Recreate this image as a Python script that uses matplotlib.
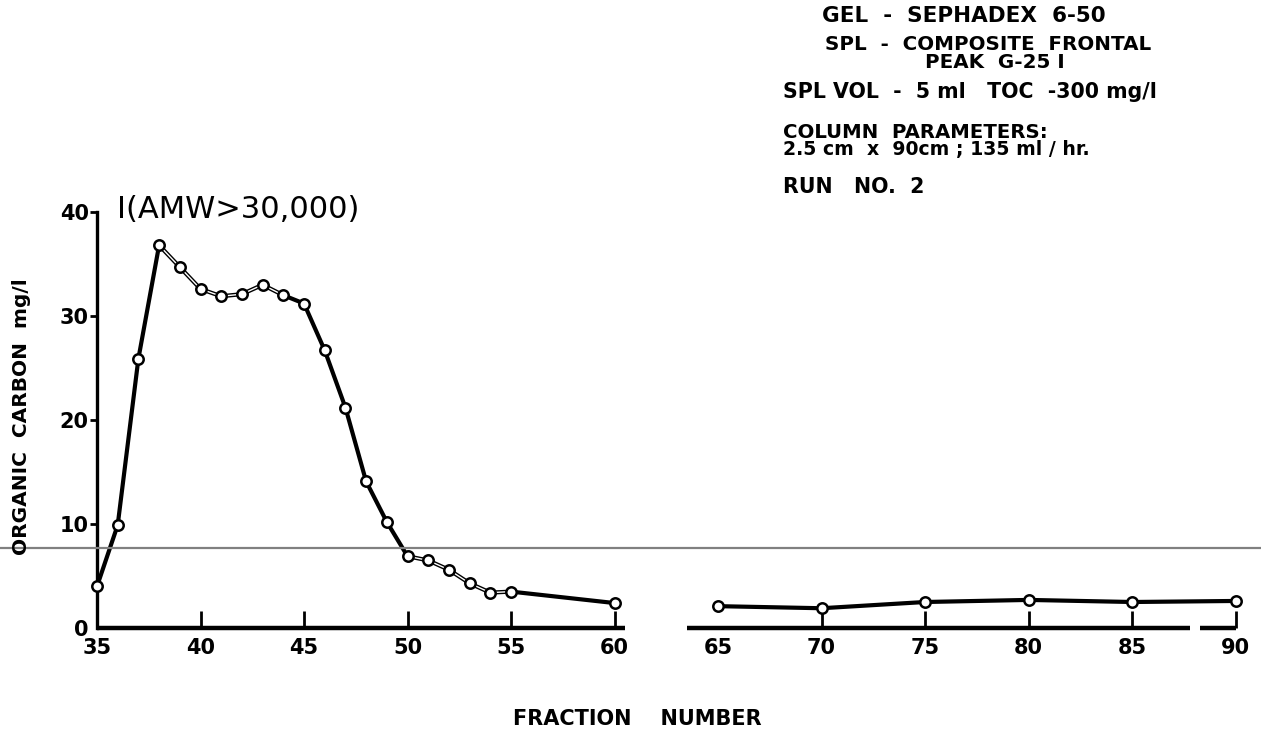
import matplotlib
matplotlib.use("Agg")
import matplotlib.pyplot as plt
from matplotlib.lines import Line2D

# ---- data ----
left_fraction = [35, 36, 37, 38, 39, 40, 41, 42, 43, 44, 45, 46, 47, 48, 49,
                 50, 51, 52, 53, 54, 55, 60]
left_carbon = [4.0, 9.9, 25.9, 36.8, 34.7, 32.6, 31.9, 32.1, 33.0, 32.0, 31.2,
               26.7, 21.2, 14.1, 10.2, 6.9, 6.5, 5.6, 4.3, 3.4, 3.5, 2.4]
right_fraction = [65, 70, 75, 80, 85, 90]
right_carbon = [2.1, 1.9, 2.5, 2.7, 2.5, 2.6]

xticks = [35, 40, 45, 50, 55, 60, 65, 70, 75, 80, 85, 90]
yticks = [0, 10, 20, 30, 40]

peak_label = "I(AMW>30,000)"
notes = [
    ("GEL  -  SEPHADEX  6-50", 822, 16, 15.5),
    ("SPL  -  COMPOSITE  FRONTAL", 825, 45, 14.3),
    ("PEAK  G-25 I", 925, 63, 14.3),
    ("SPL VOL  -  5 ml   TOC  -300 mg/l", 783, 92, 14.8),
    ("COLUMN  PARAMETERS:", 783, 133, 14.2),
    ("2.5 cm  x  90cm ; 135 ml / hr.", 783, 150, 13.6),
    ("RUN   NO.  2", 783, 187, 14.8),
]

# axis line pieces (broken baseline as drawn on the original sheet)
axis_pieces = [(35, 60.5), (63.5, 87.8), (88.3, 90.0)]
hollow_spans = [(38, 44), (50, 55)]

W, H = 1261, 735
fig = plt.figure(figsize=(W / 100, H / 100), dpi=100)
fig.patch.set_facecolor("white")

x0, x1, yb, yt = 97, 1242, 628, 212
ax = fig.add_axes([x0 / W, 1 - yb / H, (x1 - x0) / W, (yb - yt) / H])
ax.set_xlim(35, 35 + (x1 - x0) / 20.7)
ax.set_ylim(0, 40)

for s in ["top", "right", "bottom"]:
    ax.spines[s].set_visible(False)
ax.spines["left"].set_linewidth(2.4)
ax.spines["left"].set_color("black")

# broken baseline
for a, b in axis_pieces:
    ax.plot([a, b], [0, 0], color="black", lw=3.2, solid_capstyle="butt",
            clip_on=False, zorder=3)

# left curve
ax.plot(left_fraction, left_carbon, color="black", lw=3.0, zorder=4,
        clip_on=False, solid_joinstyle="round")
for a, b in hollow_spans:
    idx = [i for i, f in enumerate(left_fraction) if a <= f <= b]
    ax.plot([left_fraction[i] for i in idx], [left_carbon[i] for i in idx],
            color="white", lw=1.0, zorder=5)
ax.plot(left_fraction, left_carbon, ls="none", marker="o", ms=7.5,
        mfc="white", mec="black", mew=1.8, zorder=6, clip_on=False)

# right curve
ax.plot(right_fraction, right_carbon, color="black", lw=3.0, zorder=4,
        clip_on=False)
ax.plot(right_fraction, right_carbon, ls="none", marker="o", ms=7.5,
        mfc="white", mec="black", mew=1.8, zorder=6, clip_on=False)

# ticks
ax.set_xticks(xticks)
ax.set_xticklabels([str(t) for t in xticks])
ax.set_yticks(yticks)
ax.set_yticklabels([str(t) for t in yticks])
ax.tick_params(axis="x", direction="in", length=12, width=2, labelsize=15,
               pad=7, colors="black")
ax.tick_params(axis="y", direction="out", length=5, width=2, labelsize=15,
               pad=1, colors="black")
for lab in ax.get_xticklabels() + ax.get_yticklabels():
    lab.set_fontweight("bold")
for i, t in enumerate(ax.xaxis.get_major_ticks()):
    if xticks[i] in (35, 65):
        t.tick1line.set_visible(False)
ax.yaxis.get_major_ticks()[0].tick1line.set_visible(False)

# peak label next to 40 tick
fig.text(117 / W, 1 - 210 / H, peak_label, fontsize=22, ha="left",
         va="center", color="black")

# notes block
for txt, px, py, fs in notes:
    fig.text(px / W, 1 - py / H, txt, fontsize=fs, fontweight="bold",
             ha="left", va="center", color="black")

# axis titles
fig.text(637 / W, 1 - 719 / H, "FRACTION    NUMBER", fontsize=15,
         fontweight="bold", ha="center", va="center")
fig.text(22 / W, 1 - 417 / H, "ORGANIC  CARBON  mg/l", fontsize=14.5,
         fontweight="bold", ha="center", va="center", rotation=90)

# grey horizontal scan line across the sheet
fig.add_artist(Line2D([0, 1], [1 - 548 / H, 1 - 548 / H], color="#808080",
                      lw=1.6, transform=fig.transFigure))

fig.savefig("out.png", dpi=100, facecolor="white")
